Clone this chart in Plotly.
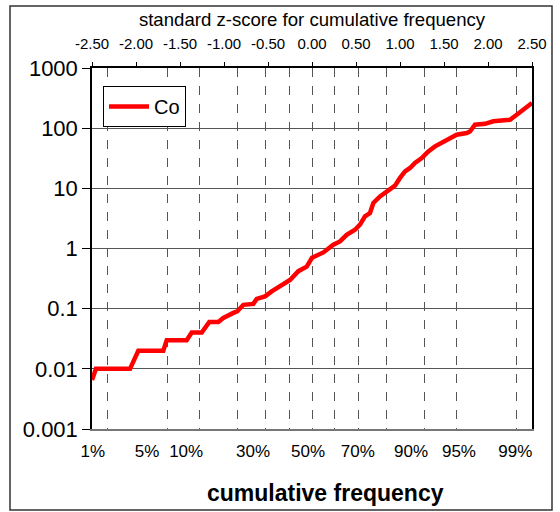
import plotly.graph_objects as go
from statistics import NormalDist

# ---- data ----
z_scores = [-2.50, -2.455, -2.068, -1.974, -1.69, -1.651, -1.424, -1.367, -1.253, -1.167,
            -1.065, -1.008, -0.894, -0.85, -0.78, -0.667, -0.628, -0.534, -0.458, -0.344,
            -0.25, -0.155, -0.06, 0.0, 0.09, 0.129, 0.242, 0.318, 0.394, 0.489,
            0.545, 0.602, 0.659, 0.697, 0.773, 0.849, 0.943, 1.0, 1.057, 1.114,
            1.17, 1.247, 1.322, 1.398, 1.492, 1.568, 1.644, 1.758, 1.795, 1.852,
            1.966, 2.06, 2.25, 2.326, 2.44, 2.5]
co_values = [0.0065, 0.01, 0.01, 0.02, 0.02, 0.03, 0.03, 0.04, 0.04, 0.06,
             0.06, 0.07, 0.085, 0.09, 0.116, 0.12, 0.145, 0.16, 0.194, 0.24,
             0.30, 0.42, 0.5, 0.7, 0.79, 0.86, 1.16, 1.31, 1.69, 2.05,
             2.49, 3.42, 3.89, 5.7, 7.35, 8.9, 11.1, 14.9, 19.1, 21.8,
             26.4, 31.9, 41.1, 49.8, 58, 66, 77.8, 83, 88, 114,
             118, 130, 138, 167, 230, 262]

# cumulative-frequency gridlines (percent)
freq_grid_pct = [1, 5, 10, 20, 30, 40, 50, 60, 70, 80, 90, 95, 99]
# cumulative-frequency tick labels as placed in the reference (z position of label centre)
freq_labels = ["1%", "5%", "10%", "30%", "50%", "70%", "90%", "95%", "99%"]
freq_label_z = [-2.49, -1.875, -1.43, -0.67, -0.045, 0.52, 1.125, 1.67, 2.31]
z_ticks = [-2.5, -2.0, -1.5, -1.0, -0.5, 0.0, 0.5, 1.0, 1.5, 2.0, 2.5]
y_ticks = [0.001, 0.01, 0.1, 1, 10, 100, 1000]
y_labels = ["0.001", "0.01", "0.1", "1", "10", "100", "1000"]

nd = NormalDist()
freq_z = [nd.inv_cdf(p / 100.0) for p in freq_grid_pct]

FONT = "Arial, Liberation Sans, sans-serif"

fig = go.Figure()
fig.add_trace(go.Scatter(x=z_scores, y=co_values, mode="lines", name="Co",
                         line=dict(color="#ff0000", width=4.5), xaxis="x", yaxis="y"))
# invisible traces to activate the extra x axes
for ax in ("x2", "x3"):
    fig.add_trace(go.Scatter(x=[z_ticks[0], z_ticks[-1]], y=[1, 1], mode="markers",
                             marker=dict(opacity=0), showlegend=False, hoverinfo="skip",
                             xaxis=ax, yaxis="y"))

fig.update_layout(
    width=560, height=512,
    margin=dict(l=92, r=28, t=68, b=83),
    paper_bgcolor="white", plot_bgcolor="white",
    font=dict(family=FONT, color="black"),
    showlegend=True,
    legend=dict(x=0.025, y=0.95, xanchor="left", yanchor="top",
                bordercolor="black", borderwidth=1, bgcolor="white",
                font=dict(size=20), itemwidth=40, tracegroupgap=0),
    xaxis=dict(range=[-2.5, 2.5], tickmode="array", tickvals=freq_z,
               showticklabels=False,
               showgrid=True, gridcolor="#555555", griddash="dash", gridwidth=1,
               ticks="", showline=True, linecolor="#777777", linewidth=1.5, zeroline=False),
    xaxis3=dict(range=[-2.5, 2.5], overlaying="x", side="bottom", tickmode="array",
                tickvals=freq_label_z, ticktext=freq_labels, showgrid=False, showline=False,
                ticks="", zeroline=False, tickfont=dict(size=17), tickangle=0,
                ticklabelstandoff=10),
    xaxis2=dict(range=[-2.5, 2.5], overlaying="x", side="top", tickmode="array",
                tickvals=z_ticks, ticktext=[f"{v:.2f}" for v in z_ticks],
                ticks="outside", ticklen=4, tickcolor="black", showgrid=False,
                showline=True, linecolor="black", linewidth=1.5, zeroline=False,
                tickfont=dict(size=15), tickangle=0, ticklabelstandoff=7,
                title=dict(text="standard z-score for cumulative frequency",
                           font=dict(size=18.6), standoff=4)),
    yaxis=dict(type="log", range=[-3, 3], tickmode="array", tickvals=y_ticks, ticktext=y_labels,
               ticks="outside", ticklen=8, tickcolor="black", showgrid=True,
               gridcolor="#555555", gridwidth=1, showline=True, linecolor="black",
               linewidth=1.5, mirror=True, tickfont=dict(size=22), zeroline=False),
)

# bottom axis title (placed slightly right of centre as in the reference)
fig.add_annotation(text="<b>cumulative frequency</b>", xref="paper", yref="paper",
                   x=(325 - 92) / 440, y=(429 - 493) / 361, xanchor="center", yanchor="middle",
                   showarrow=False, font=dict(size=23))

fig.add_shape(type="rect", xref="paper", yref="paper",
              x0=(10 - 92) / 440, x1=(552 - 92) / 440,
              y0=(429 - 510) / 361, y1=(429 - 6) / 361,
              line=dict(color="#333333", width=1.5), layer="below")

fig.write_html("out.html")
